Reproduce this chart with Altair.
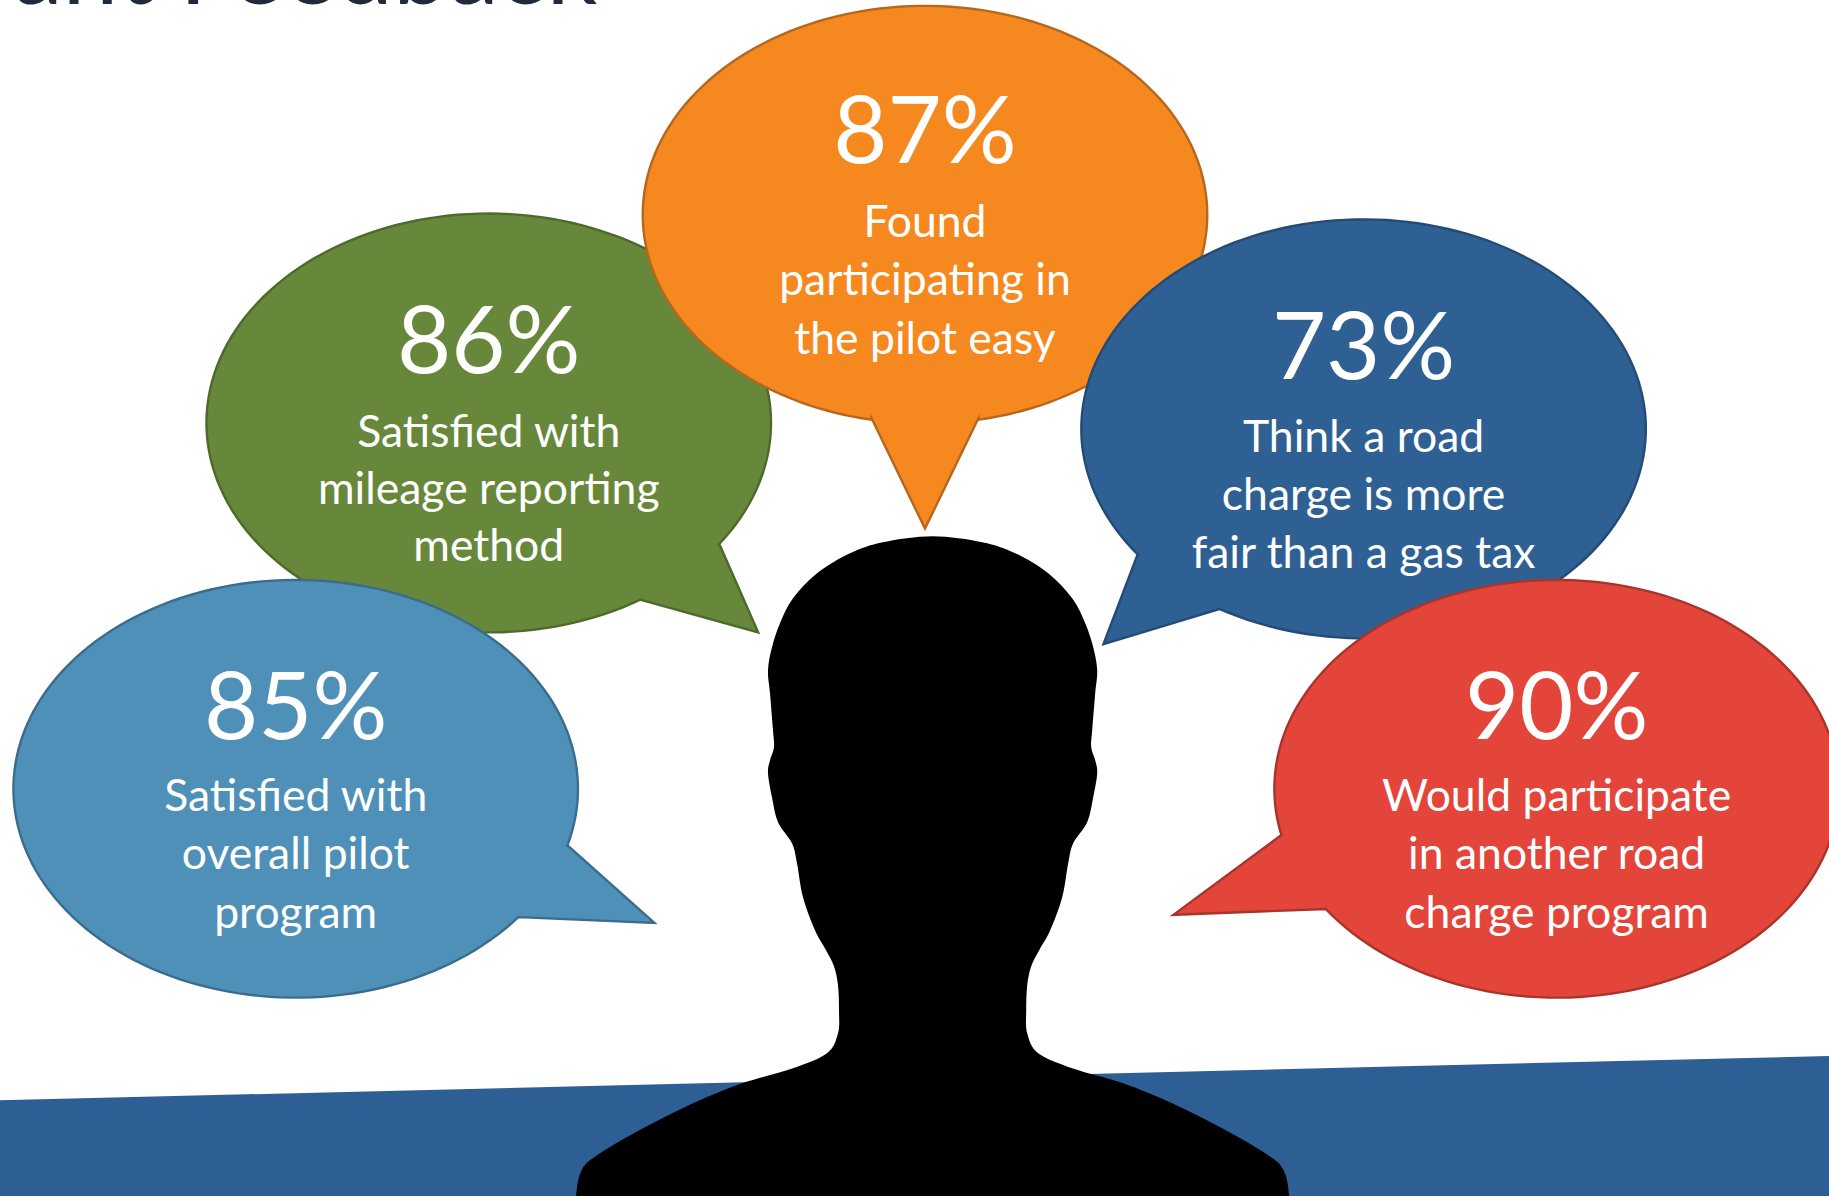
import numpy as np
import pandas as pd
import altair as alt

# Survey results: headline share and the three lines of wording under it
PERCENTS = ["86%", "87%", "73%", "85%", "90%"]
WORDING = [
    ["Satisfied with", "mileage reporting", "method"],
    ["Found", "participating in", "the pilot easy"],
    ["Think a road", "charge is more", "fair than a gas tax"],
    ["Satisfied with", "overall pilot", "program"],
    ["Would participate", "in another road", "charge program"],
]

# Speech bubbles in drawing units, listed back to front
CENTER_X = [419, 793, 1169, 253.5, 1334.5]
CENTER_Y = [362.5, 184, 367.5, 676, 676]
RADIUS_X = [242, 242, 242, 242, 242]
RADIUS_Y = [179.5, 179, 179.5, 179, 179]
TAIL_START = [(617, 467), (839, 358), (1045, 522), (487, 725), (1137, 779)]
TAIL_TIP = [(650, 542), (793, 453), (946, 552), (561, 791), (1006, 784)]
TAIL_END = [(549, 514), (747, 358), (975, 476), (445, 786), (1098, 716)]
FILLS = ["#67883B", "#F68820", "#2E6094", "#4F90B8", "#E4453A"]
EDGES = ["#4C6A2A", "#B8661C", "#244B75", "#3B6C8E", "#A9342C"]

# Text baselines for each bubble: headline, then the three wording lines
HEADLINE_Y = [320, 140, 325, 633, 633]
LINE_Y = [
    [383, 432, 481],
    [203, 253, 303],
    [387, 437, 487],
    [695, 745, 795],
    [695, 745, 795],
]

# Cropped slide heading along the top edge
HEADING = "Participant Feedback"

# Sloped footer band
BAND_X = [0, 1568, 1568, 0]
BAND_Y = [943, 905, 1040, 1040]

WIDTH, HEIGHT = 1829, 1196
UNIT = WIDTH / 1568

# Head-and-shoulders outline in pixels, left side from the crown down; the right side mirrors it
HEAD_X = [932.6, 883, 850, 817, 793, 780, 772, 768, 770, 773, 774, 770, 768, 772, 778,
          792, 797, 803, 815, 826, 834, 838, 839, 838, 827, 793, 742, 693, 643, 600, 582,
          576, 574]
HEAD_Y = [536, 542, 553, 573, 598, 623, 647, 670, 693, 730, 747, 760, 773, 797, 822,
          843, 863, 897, 930, 950, 966, 985, 1010, 1033, 1053, 1068, 1083, 1103, 1128, 1153,
          1169, 1196, 1240]

x_scale = alt.Scale(domain=[0, 1568], range=[0, WIDTH], nice=False, zero=False)
y_scale = alt.Scale(domain=[0, 1025], range=[0, HEIGHT], nice=False, zero=False)
X = alt.X("px:Q", scale=x_scale, axis=None)
Y = alt.Y("py:Q", scale=y_scale, axis=None)


def bubble_outline(i):
    """Walk the ellipse from one tail joint round to the other, then add the tail."""
    cx, cy, rx, ry = CENTER_X[i], CENTER_Y[i], RADIUS_X[i], RADIUS_Y[i]
    start = np.arctan2((TAIL_START[i][1] - cy) / ry, (TAIL_START[i][0] - cx) / rx)
    end = np.arctan2((TAIL_END[i][1] - cy) / ry, (TAIL_END[i][0] - cx) / rx)
    tail_tip_angle = np.arctan2((TAIL_TIP[i][1] - cy) / ry, (TAIL_TIP[i][0] - cx) / rx)
    # Sweep the long way round, away from the tail
    delta = (end - start) % (2 * np.pi)
    mid = (tail_tip_angle - start) % (2 * np.pi)
    if mid < delta:
        delta -= 2 * np.pi
    angles = start + np.linspace(0, delta, 160)
    xs = list(cx + rx * np.cos(angles)) + [TAIL_END[i][0], TAIL_TIP[i][0], TAIL_START[i][0]]
    ys = list(cy + ry * np.sin(angles)) + [TAIL_END[i][1], TAIL_TIP[i][1], TAIL_START[i][1]]
    return pd.DataFrame({"px": xs, "py": ys, "seq": range(len(xs))})


def filled_shape(df, fill, stroke, stroke_width=0.0, interpolate="linear-closed"):
    return alt.Chart(df).mark_line(
        interpolate=interpolate, fill=fill, stroke=stroke,
        strokeWidth=stroke_width, clip=True,
    ).encode(x=X, y=Y, order="seq:Q")


def text_layer(df, size, color="#FFFFFF", weight=400, align="center"):
    return alt.Chart(df).mark_text(
        font="Lato", fontSize=size, fontWeight=weight, color=color,
        align=align, baseline="alphabetic", clip=True,
    ).encode(x=X, y=Y, text="label:N")


layers = []

# Heading, mostly cut off by the top edge
layers.append(text_layer(pd.DataFrame({"px": [512], "py": [3], "label": [HEADING]}),
                         100, color="#1F2A3D", weight=400, align="right"))

# Footer band
band = pd.DataFrame({"px": BAND_X, "py": BAND_Y, "seq": range(len(BAND_X))})
layers.append(filled_shape(band, "#2D5F94", "#2D5F94"))

# Silhouette: down the left side, then back up the mirrored right side
head_x = HEAD_X + [2 * HEAD_X[0] - v for v in HEAD_X[-1:0:-1]]
head_y = HEAD_Y + HEAD_Y[-1:0:-1]
head = pd.DataFrame({
    "px": [v / UNIT for v in head_x],
    "py": [v / UNIT for v in head_y],
    "seq": range(len(head_x)),
})
layers.append(filled_shape(head, "#000000", "#000000", interpolate="cardinal-closed"))

# Bubbles with their captions, stacked so later ones overlap earlier ones
for i in range(len(PERCENTS)):
    layers.append(filled_shape(bubble_outline(i), FILLS[i], EDGES[i], 2.4))
    layers.append(text_layer(pd.DataFrame(
        {"px": [CENTER_X[i]], "py": [HEADLINE_Y[i]], "label": [PERCENTS[i]]}), 93.5))
    layers.append(text_layer(pd.DataFrame(
        {"px": [CENTER_X[i]] * 3, "py": LINE_Y[i], "label": WORDING[i]}), 44.5))

chart = alt.layer(*layers).properties(
    width=WIDTH, height=HEIGHT, padding=0,
    autosize=alt.AutoSizeParams(type="none"), background="#FFFFFF",
).configure_view(strokeWidth=0)

chart.save("out.html", embed_options={"renderer": "svg", "actions": False})
